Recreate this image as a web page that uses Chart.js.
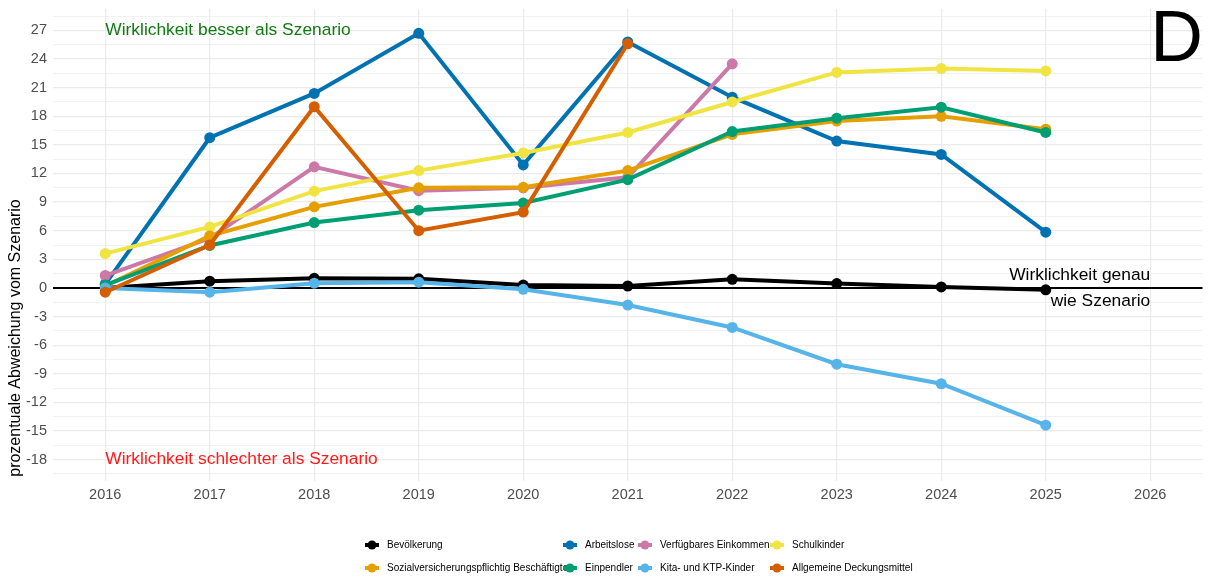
<!DOCTYPE html>
<html>
<head>
<meta charset="utf-8">
<script src="https://cdn.jsdelivr.net/npm/chart.js@4.4.1/dist/chart.umd.min.js"></script>
<style>
  html, body { margin: 0; padding: 0; background: #fff; }
  #wrap { width: 1208px; height: 577px; position: relative; }
</style>
</head>
<body>
<div id="wrap"><canvas id="line_chart"></canvas></div>
<script>
// Jahre (x-Achse)
var years = [2016, 2017, 2018, 2019, 2020, 2021, 2022, 2023, 2024, 2025];

// prozentuale Abweichung vom Szenario, je Reihe
var bevoelkerung   = [0, 0.7, 1.0, 0.95, 0.3, 0.2, 0.9, 0.45, 0.1, -0.2];
var arbeitslose    = [0.4, 15.75, 20.4, 26.7, 12.9, 25.8, 20.0, 15.4, 14.0, 5.85];
var einkommen      = [1.3, 5.2, 12.7, 10.2, 10.5, 11.6, 23.5];
var schulkinder    = [3.6, 6.4, 10.15, 12.3, 14.15, 16.3, 19.5, 22.6, 23.0, 22.75];
var beschaeftigte  = [0.2, 5.45, 8.5, 10.5, 10.55, 12.3, 16.1, 17.5, 18.0, 16.65];
var einpendler     = [0.3, 4.45, 6.85, 8.15, 8.9, 11.35, 16.4, 17.8, 18.95, 16.3];
var kita           = [0, -0.45, 0.5, 0.6, -0.15, -1.8, -4.15, -8.0, -10.05, -14.4];
var deckungsmittel = [-0.45, 4.5, 19.0, 6.0, 7.95, 25.6];

var seriesNames = ["Bevölkerung", "Arbeitslose", "Verfügbares Einkommen", "Schulkinder",
                   "Sozialversicherungspflichtig Beschäftigte", "Einpendler", "Kita- und KTP-Kinder", "Allgemeine Deckungsmittel"];
var seriesValues = [bevoelkerung, arbeitslose, einkommen, schulkinder,
                    beschaeftigte, einpendler, kita, deckungsmittel];
var seriesColors = ["#000000", "#0072B2", "#CC79A7", "#F0E442",
                    "#E69F00", "#009E73", "#56B4E9", "#D55E00"];

// y ticks: Beschriftung alle 3, Gitter alle 1.5
var yTickValues = [];
for (var v = -19.5; v <= 28.5; v += 1.5) yTickValues.push(v);
var xTickValues = [2016, 2017, 2018, 2019, 2020, 2021, 2022, 2023, 2024, 2025, 2026];

var FONT = "'Liberation Sans', Arial, Helvetica, sans-serif";

function toPoints(vals) {
    return vals.map(function (y, i) { return { x: years[i], y: y }; });
}

function isMajor(v) { return Math.abs(v % 3) < 1e-9; }

var datasets = seriesNames.map(function (name, i) {
    return {
        label: name,
        data: toPoints(seriesValues[i]),
        borderColor: seriesColors[i],
        backgroundColor: seriesColors[i],
        pointBackgroundColor: seriesColors[i],
        pointBorderColor: seriesColors[i],
        borderWidth: 4,
        pointRadius: 5.5,
        pointBorderWidth: 0,
        tension: 0,
        order: seriesNames.length - i
    };
});

// Beschriftungen im Plot, Achsentitel und Legende
var extras = {
    id: 'extras',
    afterDraw: function (chart) {
        var ctx = chart.ctx;
        var xs = chart.scales.x, ys = chart.scales.y;
        ctx.save();

        ctx.font = "17.4px " + FONT;
        ctx.textBaseline = 'middle';
        ctx.textAlign = 'left';
        ctx.fillStyle = '#127A12';
        ctx.fillText("Wirklichkeit besser als Szenario", xs.getPixelForValue(2016), ys.getPixelForValue(27));
        ctx.fillStyle = '#FF1A1A';
        ctx.fillText("Wirklichkeit schlechter als Szenario", xs.getPixelForValue(2016), ys.getPixelForValue(-18));

        ctx.textAlign = 'right';
        ctx.fillStyle = '#000';
        var y0 = ys.getPixelForValue(0);
        ctx.fillText("Wirklichkeit genau", xs.getPixelForValue(2026), y0 - 12.5);
        ctx.fillText("wie Szenario", xs.getPixelForValue(2026), y0 + 13);

        ctx.textAlign = 'left';
        ctx.textBaseline = 'alphabetic';
        ctx.font = "73px " + FONT;
        ctx.fillText("D", xs.getPixelForValue(2026), 61);

        // y-Achsentitel
        ctx.save();
        ctx.translate(16, 338);
        ctx.rotate(-Math.PI / 2);
        ctx.textAlign = 'center';
        ctx.textBaseline = 'middle';
        ctx.font = "16px " + FONT;
        ctx.fillText("prozentuale Abweichung vom Szenario", 0, 0);
        ctx.restore();

        // Legende: 2 Zeilen, 4 Spalten
        var colX = [372, 570, 645, 777];
        var rowY = [545, 568];
        ctx.font = "10px " + FONT;
        ctx.textBaseline = 'middle';
        chart.data.datasets.forEach(function (ds, i) {
            var cx = colX[i % 4], cy = rowY[Math.floor(i / 4)];
            ctx.strokeStyle = ds.borderColor;
            ctx.lineWidth = 4;
            ctx.beginPath();
            ctx.moveTo(cx - 7, cy);
            ctx.lineTo(cx + 7, cy);
            ctx.stroke();
            ctx.fillStyle = ds.borderColor;
            ctx.beginPath();
            ctx.arc(cx, cy, 4.5, 0, Math.PI * 2);
            ctx.fill();
            ctx.fillStyle = '#000';
            ctx.fillText(ds.label, cx + 15, cy);
        });
        ctx.restore();
    }
};

new Chart(document.getElementById("line_chart").getContext("2d"), {
    type: 'line',
    data: { datasets: datasets },
    options: {
        responsive: true,
        maintainAspectRatio: false,
        animation: false,
        layout: { padding: { left: 0, right: 3, top: 9, bottom: 72 } },
        plugins: {
            legend: { display: false },
            tooltip: { enabled: false }
        },
        scales: {
            x: {
                type: 'linear',
                min: 2015.5,
                max: 2026.5,
                afterBuildTicks: function (s) { s.ticks = xTickValues.map(function (v) { return { value: v }; }); },
                afterFit: function (s) { s.height = 24; s.paddingLeft = 0; s.paddingRight = 0; },
                ticks: {
                    autoSkip: false,
                    maxRotation: 0,
                    padding: 5,
                    color: '#4D4D4D',
                    font: { size: 14.5, family: FONT },
                    callback: function (v) { return String(v); }
                },
                grid: { color: '#EBEBEB', lineWidth: 1.2, drawTicks: false },
                border: { display: false }
            },
            y: {
                min: -20.25,
                max: 29.25,
                afterBuildTicks: function (s) { s.ticks = yTickValues.map(function (v) { return { value: v }; }); },
                afterFit: function (s) { s.width = 53; s.paddingTop = 0; s.paddingBottom = 0; },
                ticks: {
                    autoSkip: false,
                    padding: 6,
                    color: '#4D4D4D',
                    font: { size: 14.5, family: FONT },
                    callback: function (v) { return isMajor(v) ? String(v) : ''; }
                },
                grid: {
                    drawTicks: false,
                    color: function (c) { return c.tick && c.tick.value === 0 ? '#000000' : '#EBEBEB'; },
                    lineWidth: function (c) {
                        if (!c.tick) return 1;
                        if (c.tick.value === 0) return 2;
                        return isMajor(c.tick.value) ? 1.2 : 0.7;
                    }
                },
                border: { display: false }
            }
        }
    },
    plugins: [extras]
});
</script>
</body>
</html>
